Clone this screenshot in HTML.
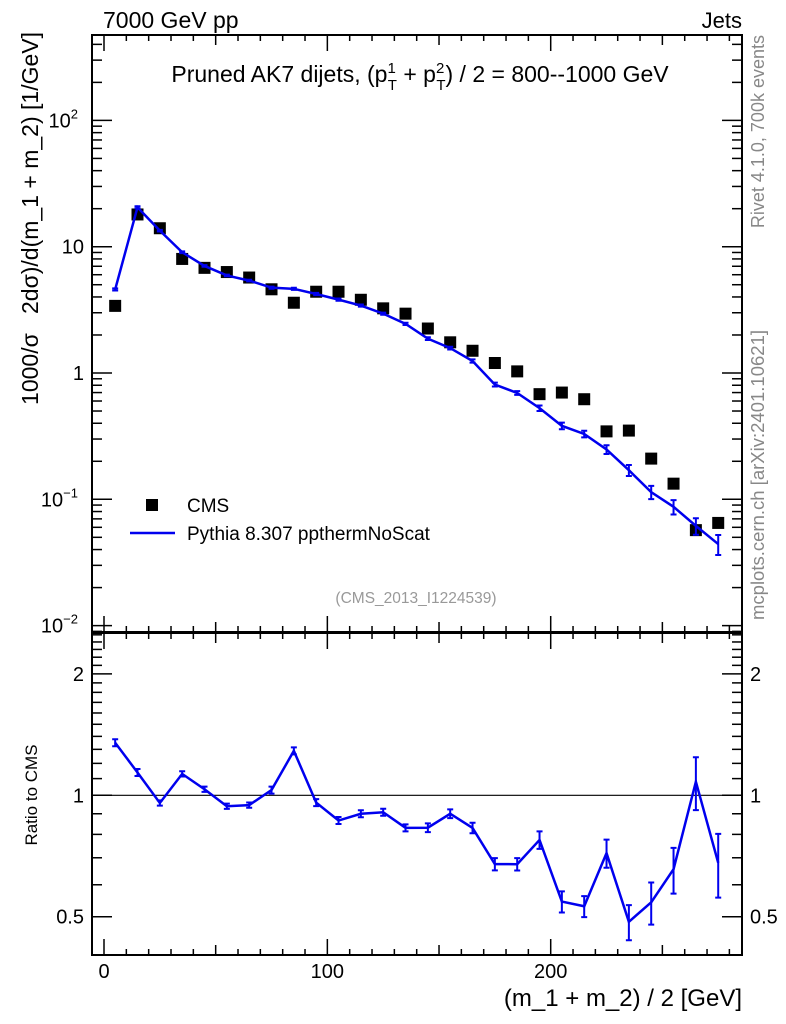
<!DOCTYPE html>
<html><head><meta charset="utf-8"><style>
html,body{margin:0;padding:0;background:#fff}
svg{display:block;font-family:"Liberation Sans",sans-serif}
</style></head><body>
<svg id="c" width="786" height="1024" xmlns="http://www.w3.org/2000/svg"></svg>
<script>
const xCenters=[5,15,25,35,45,55,65,75,85,95,105,115,125,135,145,155,165,175,185,195,205,215,225,235,245,255,265,275];
const cmsValues=[3.4,18,14,8,6.8,6.3,5.7,4.6,3.6,4.4,4.4,3.8,3.25,2.95,2.25,1.75,1.5,1.2,1.03,0.68,0.7,0.62,0.345,0.35,0.21,0.133,0.057,0.065];
const mcValues=[4.59,20.5,13.4,9.04,7.04,5.92,5.39,4.74,4.64,4.22,3.81,3.42,2.95,2.45,1.87,1.575,1.245,0.81,0.695,0.527,0.3815,0.329,0.248,0.170,0.114,0.0872,0.0616,0.0442];
const mcRelErr=[0.02,0.02,0.015,0.015,0.015,0.015,0.015,0.02,0.02,0.02,0.02,0.02,0.02,0.02,0.025,0.025,0.03,0.035,0.035,0.05,0.06,0.06,0.08,0.1,0.12,0.13,0.15,0.18];
const xTicks=[0,100,200];
const yTicksMain=[{v:0.01,t:"10",e:"−2"},{v:0.1,t:"10",e:"−1"},{v:1,t:"1",e:""},{v:10,t:"10",e:""},{v:100,t:"10",e:"2"}];
const yTicksRatio=[0.5,1,2];

const L=92,R=742,T1=35,B1=632,T2=633,B2=955;
const X=v=>104+(v)*(550.7-104)/200;
const Y1=v=>373-126.3*Math.log10(v);
const Y2=v=>795.3-121.4*Math.log2(v);
const svg=document.getElementById('c');
const NS="http://www.w3.org/2000/svg";
function el(tag,attrs,parent){const e=document.createElementNS(NS,tag);for(const k in attrs)e.setAttribute(k,attrs[k]);(parent||svg).appendChild(e);return e;}
function txt(s,attrs,parent){const e=el('text',attrs,parent);e.textContent=s;return e;}

const f1=el('rect',{x:L,y:T1,width:R-L,height:B1-T1,fill:'none',stroke:'#000','stroke-width':2});

const f2=el('rect',{x:L,y:T2,width:R-L,height:B2-T2,fill:'none',stroke:'#000','stroke-width':2});


const xt=el('g',{stroke:'#000','stroke-width':1.5});

for(let v=0;v<=280;v+=10){const x=X(v);const big=v%50===0;const len=v%100===0?16:(big?10:6);
 [[B1,-1],[T1,1],[B2,-1],[T2,1]].forEach(([y,d])=>el('line',{x1:x,x2:x,y1:y,y2:y+d*len},xt));}
xTicks.forEach(v=>{const t=txt(String(v),{x:X(v),y:978,'font-size':20,'text-anchor':'middle'});
 });

const yt=el('g',{stroke:'#000','stroke-width':1.5});

for(let d=-3;d<=2;d++){for(let m=1;m<10;m++){const v=m*Math.pow(10,d);const y=Y1(v);if(y<T1||y>B1)continue;const len=m===1?20:10;
 el('line',{x1:L,x2:L+len,y1:y,y2:y},yt);el('line',{x1:R,x2:R-len,y1:y,y2:y},yt);}}
yTicksMain.forEach(o=>{const t=txt(o.t,{x:o.e?78:84,y:Y1(o.v)+7,'font-size':20,'text-anchor':'end'});
 if(o.e){const s=el('tspan',{'font-size':13,dy:-9},t);s.textContent=o.e;}
 });

const rt=el('g',{stroke:'#000','stroke-width':1.5});

[0.4,0.5,0.6,0.7,0.8,0.9,1,1.1,1.2,1.3,1.4,1.5,1.6,1.7,1.8,1.9,2,2.1,2.2,2.3,2.4,2.5].forEach(v=>{const y=Y2(v);if(y<T2||y>B2)return;
 const len=(Math.abs(v-0.5)<1e-6||Math.abs(v-1)<1e-6||Math.abs(v-2)<1e-6)?20:10;
 el('line',{x1:L,x2:L+len,y1:y,y2:y},rt);el('line',{x1:R,x2:R-len,y1:y,y2:y},rt);});
yTicksRatio.forEach(v=>{const a=txt(String(v),{x:84,y:Y2(v)+7,'font-size':20,'text-anchor':'end'});
 
 const b=txt(String(v),{x:750,y:Y2(v)+7,'font-size':20});
 });
const one=el('line',{x1:L,x2:R,y1:Y2(1),y2:Y2(1),stroke:'#000','stroke-width':1.2});


const cg=el('g',{fill:'#000'});

xCenters.forEach((c,i)=>{const r=el('rect',{x:X(c)-6,y:Y1(cmsValues[i])-6,width:12,height:12},cg);
 });

const mg=el('g',{stroke:'#0000ee','stroke-width':2.5,fill:'none'});

el('polyline',{points:xCenters.map((c,i)=>X(c)+','+Y1(mcValues[i])).join(' ')},mg);
xCenters.forEach((c,i)=>{const v=mcValues[i],e=mcRelErr[i],x=X(c);const y1=Y1(v*(1+e)),y2=Y1(v*(1-e));
 const g=el('path',{d:`M${x},${y1}V${y2}M${x-3},${y1}H${x+3}M${x-3},${y2}H${x+3}`,'stroke-width':2},mg);
 });

const rg=el('g',{stroke:'#0000ee','stroke-width':2.5,fill:'none'});

el('polyline',{points:xCenters.map((c,i)=>X(c)+','+Y2(mcValues[i]/cmsValues[i])).join(' ')},rg);
xCenters.forEach((c,i)=>{const v=mcValues[i]/cmsValues[i],e=mcRelErr[i],x=X(c);const y1=Y2(v*(1+e)),y2=Y2(v*(1-e));
 const g=el('path',{d:`M${x},${y1}V${y2}M${x-3},${y1}H${x+3}M${x-3},${y2}H${x+3}`,'stroke-width':2},rg);
 });

function label(s,attrs,name){const t=txt(s,attrs);return t;}
label('7000 GeV pp',{x:103,y:28,'font-size':23},'energy-label');
label('Jets',{x:742,y:28,'font-size':22,'text-anchor':'end'},'process-label');
const ttl=label('',{x:420,y:82,'font-size':23,'text-anchor':'middle'},'plot-title');
ttl.innerHTML='Pruned AK7 dijets, (p<tspan font-size="15" dy="-9">1</tspan><tspan font-size="15" dx="-8" dy="17">T</tspan><tspan dy="-8"> + p</tspan><tspan font-size="15" dy="-9">2</tspan><tspan font-size="15" dx="-8" dy="17">T</tspan><tspan dy="-8">) / 2 = 800--1000 GeV</tspan>';
label('1000/σ \u00a0\u00a02dσ)/d(m_1 + m_2) [1/GeV]',{x:0,y:0,'font-size':23,'text-anchor':'end',transform:'translate(38,32) rotate(-90)'},'y-axis-title');
label('Ratio to CMS',{x:0,y:0,'font-size':17,'text-anchor':'middle',transform:'translate(37,795) rotate(-90)'},'ratio-axis-title');
label('(m_1 + m_2) / 2 [GeV]',{x:742,y:1006,'font-size':24,'text-anchor':'end'},'x-axis-title');
label('Rivet 4.1.0,  700k events',{x:0,y:0,'font-size':18,fill:'#888','text-anchor':'end',transform:'translate(764,35) rotate(-90)'},'rivet-label');
label('mcplots.cern.ch [arXiv:2401.10621]',{x:0,y:0,'font-size':18.5,fill:'#888','text-anchor':'end',transform:'translate(764,330) rotate(-90)'},'mcplots-label');
label('(CMS_2013_I1224539)',{x:416,y:603,'font-size':15.5,fill:'#999','text-anchor':'middle'},'analysis-id');
const lg=el('g',{});
const ls=el('rect',{x:146,y:499,width:12,height:12,fill:'#000'},lg);
const lt=txt('CMS',{x:187,y:512,'font-size':19},lg);
const ll=el('line',{x1:130,x2:175,y1:533,y2:533,stroke:'#0000ee','stroke-width':2.5},lg);
const lt2=txt('Pythia 8.307 ppthermNoScat',{x:187,y:540,'font-size':19},lg);
</script>
</body></html>
